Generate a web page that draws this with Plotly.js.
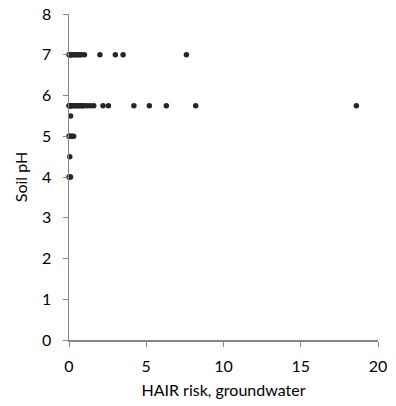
<!DOCTYPE html>
<html>
<head>
<meta charset="utf-8">
<script src="https://cdn.plot.ly/plotly-3.0.1.min.js"></script>
<style>html,body{margin:0;padding:0;background:#fff;}#chart{width:396px;height:406px;}</style>
</head>
<body>
<div id="chart"></div>
<script>
// HAIR risk values observed at each soil pH level
var riskAtPH7 = [0, 0.03, 0.06, 0.1, 0.15, 0.2, 0.3, 0.4, 0.5, 0.6, 0.7, 0.8, 1.0, 2.0, 3.0, 3.5, 7.6];
var riskAtPH575 = [0, 0.03, 0.06, 0.1, 0.15, 0.2, 0.3, 0.4, 0.5, 0.6, 0.7, 0.8, 0.9, 1.0, 1.2, 1.4, 1.6, 2.2, 2.55, 4.2, 5.2, 6.3, 8.2, 18.6];
var riskAtPH55 = [0.1];
var riskAtPH5 = [0, 0.05, 0.1, 0.2, 0.3];
var riskAtPH45 = [0.05];
var riskAtPH4 = [0, 0.05, 0.1];
var phLevels = [7, 5.75, 5.5, 5, 4.5, 4];
var riskGroups = [riskAtPH7, riskAtPH575, riskAtPH55, riskAtPH5, riskAtPH45, riskAtPH4];
var xTickVals = [0, 5, 10, 15, 20];
var yTickVals = [0, 1, 2, 3, 4, 5, 6, 7, 8];

var xs = [], ys = [];
riskGroups.forEach(function (g, i) {
  g.forEach(function (v) { xs.push(v); ys.push(phLevels[i]); });
});

var font = {family: 'Lato, "Open Sans", sans-serif', size: 16, color: '#000'};
var axisCommon = {
  showgrid: false, zeroline: false, showline: true, linecolor: '#868686', linewidth: 1.5,
  ticks: 'outside', ticklen: 5, tickcolor: '#868686', tickwidth: 1,
  tickfont: font, fixedrange: true
};

Plotly.newPlot('chart', [{
  x: xs, y: ys, type: 'scatter', mode: 'markers', cliponaxis: false,
  marker: {color: '#262626', size: 5.5}
}], {
  width: 396, height: 406,
  margin: {l: 69, r: 18, t: 14, b: 66},
  paper_bgcolor: '#fff', plot_bgcolor: '#fff',
  showlegend: false,
  xaxis: Object.assign({}, axisCommon, {
    range: [0, 20], tickmode: 'array', tickvals: xTickVals, ticklabelstandoff: 6,
    title: {text: 'HAIR risk, groundwater', font: font, standoff: 11}
  }),
  yaxis: Object.assign({}, axisCommon, {
    range: [0, 8], tickmode: 'array', tickvals: yTickVals, ticklabelstandoff: 8,
    title: {text: 'Soil pH', font: font, standoff: 10}
  })
}, {staticPlot: true});
</script>
</body>
</html>
